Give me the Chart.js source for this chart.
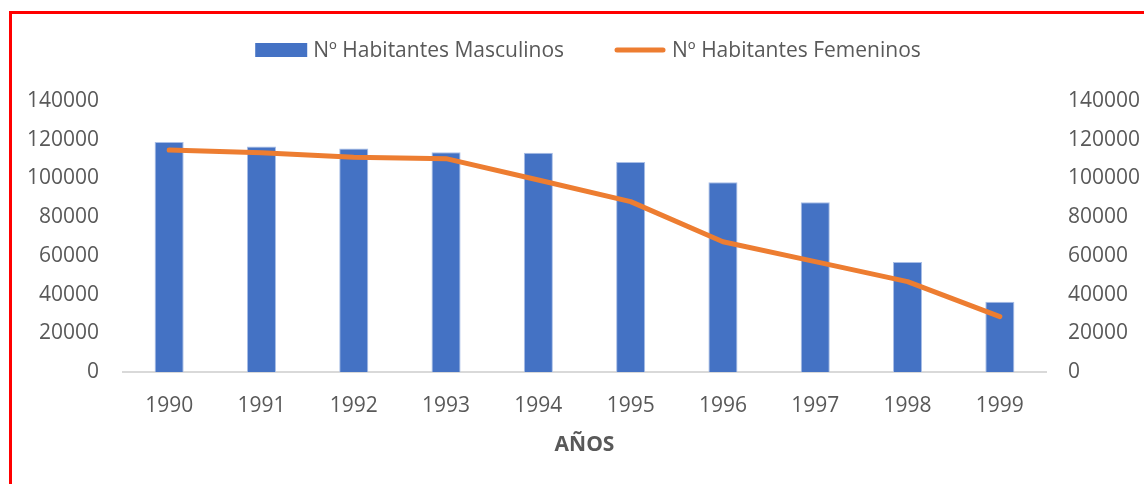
<!DOCTYPE html>
<html>
<head>
<meta charset="utf-8">
<script src="https://cdn.jsdelivr.net/npm/chart.js@4"></script>
<style>
  html, body { margin: 0; padding: 0; background: #fff; }
  #wrap { position: relative; width: 1144px; height: 484px; overflow: hidden; }
  #marco { position: absolute; left: 9px; top: 11px; width: 1200px; height: 600px;
           border-left: 3px solid #ff0000; border-top: 3px solid #ff0000; }
  canvas { position: absolute; left: 0; top: 0; }
</style>
</head>
<body>
<div id="wrap">
  <div id="marco"></div>
  <canvas id="myChart" width="1144" height="484"></canvas>
</div>
<script>
// datos
const anios = ['1990', '1991', '1992', '1993', '1994', '1995', '1996', '1997', '1998', '1999'];
const masculinos = [118800, 116500, 115400, 113500, 113300, 108500, 98000, 87700, 56800, 36300];
const femeninos = [114700, 113300, 111000, 110200, 99200, 88000, 67300, 57000, 46700, 28600];
const ticksY = [0, 20000, 40000, 60000, 80000, 100000, 120000, 140000];

const gris = '#595959';
const fuente = "'Open Sans', sans-serif";
const tam = 21;

// leyenda dibujada a mano para poder separar los items como en Excel
const leyenda = {
  id: 'leyenda',
  afterDraw(chart) {
    const ctx = chart.ctx;
    const y = 50;
    ctx.save();
    ctx.font = tam + 'px ' + fuente;
    ctx.textBaseline = 'middle';
    const items = chart.data.datasets.map(ds => ({ ds, w: ctx.measureText(ds.label).width }));
    const key = 52, gap = 6, sep = 50;
    let total = 0;
    items.forEach((it, i) => { total += key + gap + it.w + (i ? sep : 0); });
    let x = 588 - total / 2;
    items.forEach(it => {
      if (it.ds.type === 'line') {
        ctx.strokeStyle = it.ds.borderColor;
        ctx.lineWidth = 5;
        ctx.lineCap = 'round';
        ctx.beginPath();
        ctx.moveTo(x + 3, y);
        ctx.lineTo(x + key - 3, y);
        ctx.stroke();
      } else {
        ctx.fillStyle = it.ds.backgroundColor;
        ctx.fillRect(x, y - 7, key, 14);
      }
      ctx.fillStyle = gris;
      ctx.fillText(it.ds.label, x + key + gap, y + 1);
      x += key + gap + it.w + sep;
    });
    ctx.restore();
  }
};

const ctx = document.getElementById('myChart');

const ejeY = (pos, ancho, pad) => ({
  position: pos,
  min: 0,
  max: 140000,
  grid: { display: false },
  border: { display: false },
  afterBuildTicks: s => { s.ticks = ticksY.map(v => ({ value: v })); },
  afterFit: s => { s.width = ancho; },
  ticks: {
    color: gris,
    font: { family: fuente, size: tam },
    padding: pad,
    callback: v => String(v)
  }
});

new Chart(ctx, {
  type: 'bar',
  data: {
    labels: anios,
    datasets: [
      {
        type: 'bar',
        label: 'Nº Habitantes Masculinos',
        data: masculinos,
        backgroundColor: '#4472C4',
        borderColor: '#a9bee6',
        borderWidth: 1,
        categoryPercentage: 1,
        barPercentage: 0.315,
        yAxisID: 'y',
        order: 2
      },
      {
        type: 'line',
        label: 'Nº Habitantes Femeninos',
        data: femeninos,
        borderColor: '#ED7D31',
        backgroundColor: '#ED7D31',
        borderWidth: 5,
        borderCapStyle: 'round',
        borderJoinStyle: 'round',
        pointRadius: 0,
        tension: 0,
        yAxisID: 'y1',
        order: 1
      }
    ]
  },
  options: {
    responsive: false,
    animation: false,
    layout: { padding: { top: 101, left: 20, right: 0, bottom: 26 } },
    plugins: {
      legend: { display: false },
      tooltip: { enabled: false }
    },
    scales: {
      x: {
        grid: { display: false },
        border: { color: '#d9d9d9', width: 2 },
        afterFit: s => { s.height = 86; },
        ticks: { color: gris, font: { family: fuente, size: tam }, padding: 13 },
        title: {
          display: true,
          text: 'AÑOS',
          color: gris,
          font: { family: fuente, size: tam, weight: 'bold' },
          padding: { top: 14, bottom: 0 }
        }
      },
      y: ejeY('left', 103, 16),
      y1: ejeY('right', 98, 14)
    }
  },
  plugins: [leyenda]
});
</script>
</body>
</html>
